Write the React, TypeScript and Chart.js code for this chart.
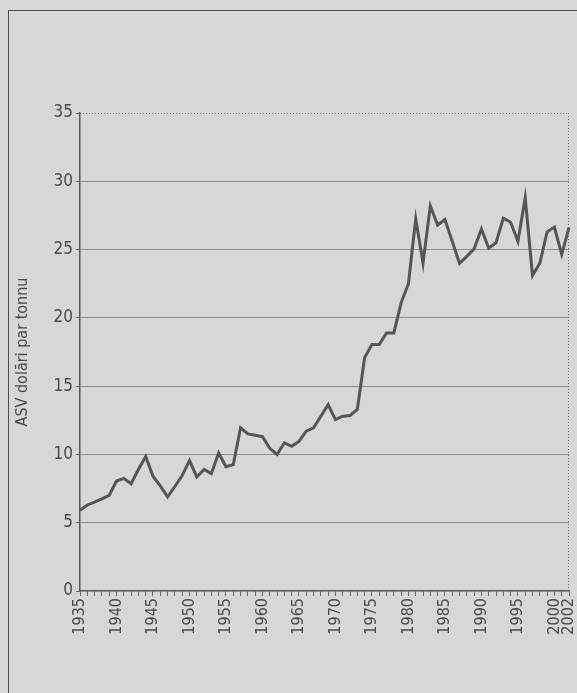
import React, { useEffect, useRef } from "react";
import { Chart, registerables } from "chart.js";

Chart.register(...registerables);

const years: string[] = [
  "1935", "1936", "1937", "1938", "1939", "1940", "1941", "1942", "1943", "1944",
  "1945", "1946", "1947", "1948", "1949", "1950", "1951", "1952", "1953", "1954",
  "1955", "1956", "1957", "1958", "1959", "1960", "1961", "1962", "1963", "1964",
  "1965", "1966", "1967", "1968", "1969", "1970", "1971", "1972", "1973", "1974",
  "1975", "1976", "1977", "1978", "1979", "1980", "1981", "1982", "1983", "1984",
  "1985", "1986", "1987", "1988", "1989", "1990", "1991", "1992", "1993", "1994",
  "1995", "1996", "1997", "1998", "1999", "2000", "2001", "2002",
];

const prices: number[] = [
  5.9, 6.3, 6.5, 6.75, 7.0, 8.05, 8.25, 7.85, 8.9, 9.85,
  8.4, 7.7, 6.9, 7.65, 8.45, 9.55, 8.35, 8.9, 8.6, 10.1,
  9.1, 9.25, 11.95, 11.5, 11.4, 11.3, 10.45, 10.0, 10.85, 10.6,
  10.95, 11.7, 11.95, 12.8, 13.65, 12.55, 12.8, 12.85, 13.3, 17.1,
  18.05, 18.05, 18.9, 18.9, 21.1, 22.5, 27.25, 24.0, 28.2, 26.8,
  27.2, 25.6, 24.0, 24.5, 25.05, 26.5, 25.1, 25.5, 27.3, 27.0,
  25.6, 28.8, 23.1, 24.0, 26.3, 26.65, 24.65, 26.6,
];

const shownYearLabels: string[] = [
  "1935", "1940", "1945", "1950", "1955", "1960", "1965", "1970",
  "1975", "1980", "1985", "1990", "1995", "2000", "2002",
];

const yTitle = "ASV dolāri par tonnu";

const FONT = "'Liberation Sans Narrow', 'DejaVu Sans Condensed', 'Roboto', sans-serif";

const framePlugin = {
  id: "dottedFrame",
  beforeDatasetsDraw(chart: any) {
    const { ctx, chartArea } = chart;
    const { left, top, right, bottom } = chartArea;
    ctx.save();
    ctx.setLineDash([1, 2]);
    ctx.strokeStyle = "#6a6a6a";
    ctx.lineWidth = 1;
    ctx.beginPath();
    ctx.moveTo(left, Math.round(top) + 0.5);
    ctx.lineTo(right, Math.round(top) + 0.5);
    ctx.moveTo(Math.round(right) - 0.5, top);
    ctx.lineTo(Math.round(right) - 0.5, bottom);
    ctx.stroke();
    ctx.restore();
  },
};

export default function App() {
  const canvasRef = useRef<HTMLCanvasElement | null>(null);

  useEffect(() => {
    if (!canvasRef.current) return;
    const chart = new Chart(canvasRef.current, {
      type: "line",
      data: {
        labels: years,
        datasets: [
          {
            data: prices,
            borderColor: "#555555",
            borderWidth: 3,
            pointRadius: 0,
            tension: 0,
            fill: false,
          },
        ],
      },
      plugins: [framePlugin],
      options: {
        animation: false,
        responsive: false,
        maintainAspectRatio: false,
        layout: { padding: { top: 113, right: 8, left: 0, bottom: 0 } },
        plugins: {
          legend: { display: false },
          tooltip: { enabled: false },
        },
        scales: {
          x: {
            type: "category",
            offset: false,
            afterFit(scale: any) {
              scale.height = 102;
              scale.paddingRight = 0;
              scale.paddingLeft = 0;
            },
            border: { display: true, color: "#555555", width: 1.5 },
            grid: {
              display: true,
              drawOnChartArea: false,
              drawTicks: true,
              tickLength: 5,
              tickColor: "#666666",
              tickWidth: 1,
            },
            ticks: {
              autoSkip: false,
              maxRotation: 90,
              minRotation: 90,
              padding: 2,
              color: "#4a4a4a",
              font: { family: FONT, size: 16 },
              callback(this: any, value: any) {
                const lab = this.getLabelForValue(value);
                return shownYearLabels.includes(lab) ? lab : "";
              },
            },
          },
          y: {
            min: 0,
            max: 35,
            afterFit(scale: any) {
              scale.width = 80;
              scale.paddingTop = 0;
              scale.paddingBottom = 0;
            },
            border: { display: true, color: "#555555", width: 1.5 },
            grid: {
              color: (c: any) =>
                c.tick && (c.tick.value === 35 || c.tick.value === 0)
                  ? "rgba(0,0,0,0)"
                  : "#8c8c8c",
              lineWidth: 1,
              drawTicks: true,
              tickLength: 4,
              tickColor: "#666666",
            },
            ticks: {
              stepSize: 5,
              padding: 3,
              color: "#4a4a4a",
              font: { family: FONT, size: 17 },
            },
            title: {
              display: true,
              text: yTitle,
              color: "#4a4a4a",
              font: { family: FONT, size: 16 },
              padding: { top: 13, bottom: 0 },
            },
          },
        },
      },
    });
    return () => chart.destroy();
  }, []);

  return (
    <div
      style={{
        position: "fixed",
        left: 0,
        top: 0,
        width: 577,
        height: 693,
        background: "#d7d7d7",
        overflow: "hidden",
      }}
    >
      <div
        style={{
          position: "absolute",
          left: 8,
          top: 10,
          width: 700,
          height: 800,
          borderLeft: "1.5px solid #4a4a4a",
          borderTop: "1.5px solid #4a4a4a",
        }}
      />
      <canvas
        ref={canvasRef}
        width={577}
        height={693}
        style={{ position: "absolute", left: 0, top: 0, width: 577, height: 693 }}
      />
    </div>
  );
}
